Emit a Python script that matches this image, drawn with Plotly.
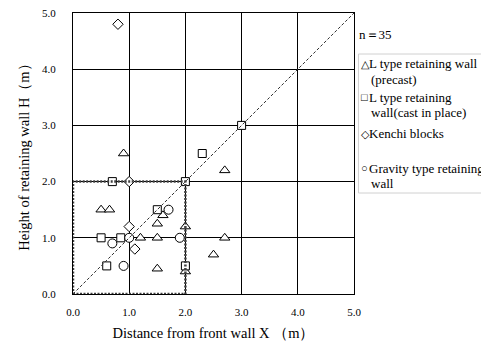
import plotly.graph_objects as go

# Data
tri_x = [0.9, 2.7, 0.5, 0.65, 1.6, 1.5, 2.0, 1.2, 1.5, 2.7, 2.5, 1.5, 2.0]
tri_y = [2.5, 2.2, 1.5, 1.5, 1.4, 1.25, 1.2, 1.0, 1.0, 1.0, 0.7, 0.45, 0.4]
sq_x = [2.3, 3.0, 0.7, 2.0, 1.5, 0.5, 0.85, 0.6, 2.0]
sq_y = [2.5, 3.0, 2.0, 2.0, 1.5, 1.0, 1.0, 0.5, 0.5]
dia_x = [0.8, 1.0, 1.0, 1.1]
dia_y = [4.8, 2.0, 1.2, 0.8]
cir_x = [1.7, 1.0, 1.9, 0.7, 0.9]
cir_y = [1.5, 1.0, 1.0, 0.9, 0.5]

series_lines = [
    ["L type retaining wall", "(precast)"],
    ["L type retaining", "wall(cast in place)"],
    ["Kenchi blocks"],
    ["Gravity type retaining", "wall"],
]
legend_symbols = ["△", "□", "◇", "○"]
tick_vals = [0, 1, 2, 3, 4, 5]
tick_text = ["0.0", "1.0", "2.0", "3.0", "4.0", "5.0"]
n_label = "n＝35"

FONT = "Liberation Serif, Times New Roman, serif"

# page body has an 8px margin, so figure coords = screen coords - 8
OFF = 8
W, H = 489, 346
L, T = 64.5, 5
R = W - 346.5
B = H - 286
pw, ph = W - L - R, H - T - B


def px_to_paper(px, py):
    # px, py in screen pixels
    return (px - OFF - L) / pw, (H - B - (py - OFF)) / ph


fig = go.Figure()
mk = dict(color="white", line=dict(color="black", width=1))
fig.add_trace(go.Scatter(x=tri_x, y=tri_y, mode="markers", showlegend=False,
                         marker=dict(symbol="triangle-up", size=9, **mk)))
fig.add_trace(go.Scatter(x=sq_x, y=sq_y, mode="markers", showlegend=False,
                         marker=dict(symbol="square", size=8, **mk)))
fig.add_trace(go.Scatter(x=dia_x, y=dia_y, mode="markers", showlegend=False,
                         marker=dict(symbol="diamond", size=8, **mk)))
fig.add_trace(go.Scatter(x=cir_x, y=cir_y, mode="markers", showlegend=False,
                         marker=dict(symbol="circle", size=9, **mk)))

# reference lines
fig.add_shape(type="line", x0=0, y0=0, x1=5, y1=5, xref="x", yref="y",
              line=dict(color="#303030", width=1, dash="3px,2px"), layer="above")
fig.add_shape(type="rect", x0=0, y0=0, x1=2, y1=2, xref="x", yref="y",
              line=dict(color="#404040", width=2.5, dash="2px,1.5px"), layer="above")

fig.update_layout(
    width=W, height=H,
    margin=dict(l=L, r=R, t=T, b=B),
    paper_bgcolor="white", plot_bgcolor="white",
    font=dict(family=FONT, size=11, color="black"),
    xaxis=dict(range=[0, 5], tickvals=tick_vals, ticktext=tick_text,
               showgrid=True, gridcolor="black", gridwidth=1,
               showline=True, linecolor="black", linewidth=1, mirror=True,
               zeroline=False, ticks="", ticklabelstandoff=8, automargin=False,
               ticklabeloverflow="allow",
               title=dict(text="Distance from front wall X （m）",
                          font=dict(family=FONT, size=14.5), standoff=10),
               tickfont=dict(family=FONT, size=11)),
    yaxis=dict(range=[0, 5], tickvals=tick_vals, ticktext=tick_text,
               showgrid=True, gridcolor="black", gridwidth=1,
               showline=True, linecolor="black", linewidth=1, mirror=True,
               zeroline=False, ticks="", ticklabelstandoff=14, automargin=False,
               ticklabeloverflow="allow",
               title=dict(text="Height of retaining wall H（m）",
                          font=dict(family=FONT, size=14.5), standoff=8),
               tickfont=dict(family=FONT, size=11)),
)

# n label
nx, ny = px_to_paper(358, 35)
fig.add_annotation(x=nx, y=ny, xref="paper", yref="paper", text=n_label,
                   showarrow=False, font=dict(family=FONT, size=13, color="black"),
                   xanchor="left", yanchor="middle")

# manual legend box
bx0, by0 = px_to_paper(359, 54)
bx1, by1 = px_to_paper(495, 193)
fig.add_shape(type="rect", xref="paper", yref="paper", x0=bx0, y0=by1, x1=bx1, y1=by0,
              line=dict(color="#d0d0d0", width=1), fillcolor="white")

entry_centers = [64, 97, 134, 168]
for sym, lines, cy in zip(legend_symbols, series_lines, entry_centers):
    sx, sy = px_to_paper(360, cy)
    fig.add_annotation(x=sx, y=sy, xref="paper", yref="paper", text=sym,
                       showarrow=False, xanchor="left", yanchor="middle",
                       font=dict(family=FONT, size=11, color="black"))
    for i, line in enumerate(lines):
        indent = 368 if i == 0 else 370
        tx, ty = px_to_paper(indent, cy + 15 * i)
        fig.add_annotation(x=tx, y=ty, xref="paper", yref="paper", text=line,
                           showarrow=False, xanchor="left", yanchor="middle",
                           font=dict(family=FONT, size=13, color="black"))

fig.write_html("out.html")
